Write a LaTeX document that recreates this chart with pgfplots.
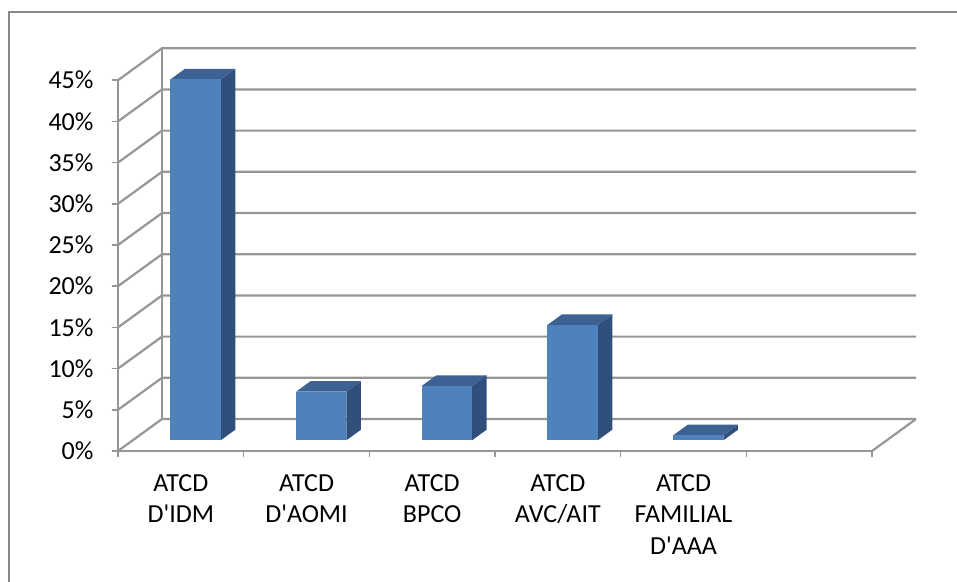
\documentclass[border=0pt]{standalone}
\usepackage{pgfplots}
\pgfplotsset{compat=1.18}
\usepackage{fontspec}
\setmainfont{Carlito}[Ligatures=TeXOff]
\definecolor{gridc}{RGB}{150,150,150}
\definecolor{framec}{RGB}{136,136,136}
\definecolor{frontc}{RGB}{79,129,189}
\definecolor{sidec}{RGB}{48,80,123}
\definecolor{topc}{RGB}{60,97,146}
\def\DX{0.35}
\def\DY{3.88}
\def\HW{0.2}
\newcommand\barthree[2]{%
 \pgfmathsetmacro\xl{#1-\HW+\DX/3}%
 \pgfmathsetmacro\xr{#1+\HW+\DX/3}%
 \pgfmathsetmacro\xrr{#1+\HW+2*\DX/3}%
 \pgfmathsetmacro\xlr{#1-\HW+2*\DX/3}%
 \pgfmathsetmacro\yb{\DY/3}%
 \pgfmathsetmacro\ybb{2*\DY/3}%
 \pgfmathsetmacro\yt{#2+\DY/3}%
 \pgfmathsetmacro\ytt{#2+2*\DY/3}%
 \edef\doit{%
  \noexpand\addplot[fill=sidec, draw=none, mark=none] coordinates {(\xr,\yb) (\xrr,\ybb) (\xrr,\ytt) (\xr,\yt)} --cycle;
  \noexpand\addplot[fill=topc, draw=none, mark=none] coordinates {(\xl,\yt) (\xr,\yt) (\xrr,\ytt) (\xlr,\ytt)} --cycle;
  \noexpand\addplot[fill=frontc, draw=none, mark=none] coordinates {(\xl,\yb) (\xr,\yb) (\xr,\yt) (\xl,\yt)} --cycle;
 }%
 \doit
}
\begin{document}
\begin{tikzpicture}[x=1pt,y=1pt]
\useasboundingbox (0,0) rectangle (957,581);
\draw[framec, line width=2.5pt] (9,-5) -- (9,569) -- (965,569);
\begin{axis}[
  at={(118pt,130pt)}, anchor=south west,
  x=125.67pt, y=8.24pt,
  xmin=-0.5, xmax=5.5, ymin=0, ymax=45,
  clip=false,
  axis lines*=left,
  axis line style={draw=gridc, line width=2.2pt, -},
  tick align=outside,
  major tick length=6pt,
  tick style={draw=gridc, line width=1.5pt},
  ytick={0,5,...,45},
  yticklabels={0\%,5\%,10\%,15\%,20\%,25\%,30\%,35\%,40\%,45\%},
  yticklabel style={font=\fontsize{26}{31}\selectfont, anchor=east, xshift=-15pt},
  xtick={-0.5,0.5,...,5.5},
  xticklabels={,,,,,,,},
  extra x ticks={0,1,2,3,4},
  extra x tick labels={{ATCD\\D'IDM},{ATCD\\D'AOMI},{ATCD\\BPCO},{ATCD\\AVC/AIT},{ATCD\\FAMILIAL\\D'AAA}},
  extra x tick style={major tick length=0pt},
  xticklabel style={font=\fontsize{26}{31.5}\selectfont, align=center, anchor=north, yshift=-20pt},
]
% back wall, left wall and floor
\pgfplotsinvokeforeach{0,5,...,45}{
  \draw[gridc, line width=2.2pt] (axis cs:-0.5,#1) -- (axis cs:-0.5+\DX,#1+\DY) -- (axis cs:5.5+\DX,#1+\DY);
}
\draw[gridc, line width=2.2pt] (axis cs:-0.5+\DX,\DY) -- (axis cs:-0.5+\DX,45+\DY);
\draw[gridc, line width=2.2pt] (axis cs:5.5,0) -- (axis cs:5.5+\DX,\DY);
% bars (category index, value in %)
\barthree{0}{43.8}
\barthree{1}{5.9}
\barthree{2}{6.6}
\barthree{3}{14.0}
\barthree{4}{0.6}
\end{axis}
\end{tikzpicture}
\end{document}
